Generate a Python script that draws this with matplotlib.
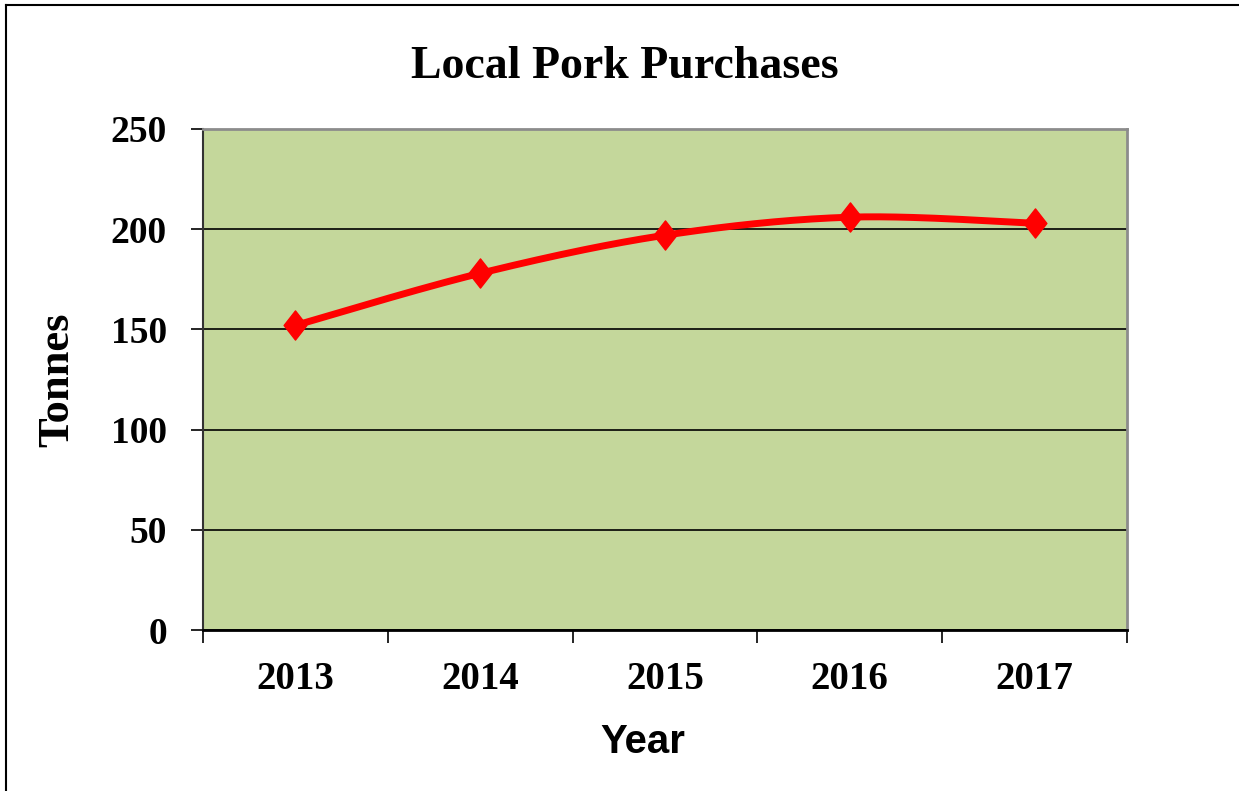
import matplotlib
matplotlib.use("Agg")
import matplotlib.pyplot as plt
import numpy as np
from matplotlib.path import Path
from matplotlib.lines import Line2D

years = ["2013", "2014", "2015", "2016", "2017"]
tonnes = [152, 178, 197, 206, 203]
yticks = [0, 50, 100, 150, 200, 250]

serif = "Liberation Serif"
sans = "Liberation Sans"


def smooth(xs, ys, n=40):
    # Catmull-Rom style curve through the points, like Excel's smoothed line
    xs = np.asarray(xs, float)
    ys = np.asarray(ys, float)
    px = np.concatenate([[xs[0]], xs, [xs[-1]]])
    py = np.concatenate([[ys[0]], ys, [ys[-1]]])
    outx, outy = [], []
    for i in range(1, len(px) - 2):
        p0 = np.array([px[i - 1], py[i - 1]])
        p1 = np.array([px[i], py[i]])
        p2 = np.array([px[i + 1], py[i + 1]])
        p3 = np.array([px[i + 2], py[i + 2]])
        c1 = p1 + (p2 - p0) / 6
        c2 = p2 - (p3 - p1) / 6
        t = np.linspace(0, 1, n)[:, None]
        b = (1 - t) ** 3 * p1 + 3 * (1 - t) ** 2 * t * c1 + 3 * (1 - t) * t ** 2 * c2 + t ** 3 * p2
        outx.extend(b[:, 0])
        outy.extend(b[:, 1])
    return outx, outy


fig = plt.figure(figsize=(12.39, 7.91), dpi=100)
W, H = 1239, 791
ax = fig.add_axes([203 / W, 1 - 630 / H, (1127 - 203) / W, (630 - 129) / H])
ax.set_facecolor("#c4d79b")

x = np.arange(len(years))
sx, sy = smooth(x, tonnes)
ax.plot(sx, sy, color="#ff0000", lw=5, solid_capstyle="round", zorder=3)

diamond = Path([(0, 1), (0.78, 0), (0, -1), (-0.78, 0), (0, 1)],
               [Path.MOVETO, Path.LINETO, Path.LINETO, Path.LINETO, Path.CLOSEPOLY])
ax.plot(x, tonnes, linestyle="none", marker=diamond, markersize=21,
        color="#ff0000", zorder=4)

ax.set_xlim(-0.5, len(years) - 0.5)
ax.set_ylim(0, 250)
ax.set_yticks(yticks)
ax.set_yticklabels([str(v) for v in yticks], fontfamily=serif, fontweight="bold", fontsize=27)
ax.yaxis.grid(True, color="black", lw=1.2)
ax.set_axisbelow(True)

ax.set_xticks(np.arange(len(years) + 1) - 0.5)
ax.set_xticklabels([])
ax.set_xticks(x, minor=True)
ax.set_xticklabels(years, minor=True, fontfamily=serif, fontweight="bold", fontsize=28)
ax.tick_params(axis="x", which="major", direction="out", length=9, width=1.2, color="black")
ax.tick_params(axis="x", which="minor", length=0, pad=22)
ax.tick_params(axis="y", direction="out", length=9, width=1.2, pad=17, color="black")

for s in ["top", "right"]:
    ax.spines[s].set_color("#8c8c8c")
    ax.spines[s].set_linewidth(2)
ax.spines["left"].set_color("#333333")
ax.spines["left"].set_linewidth(1.5)
ax.spines["bottom"].set_color("black")
ax.spines["bottom"].set_linewidth(2)

ax.set_ylabel("Tonnes", fontfamily=serif, fontweight="bold", fontsize=32, labelpad=24)
ax.set_xlabel("Year", fontfamily=sans, fontweight="bold", fontsize=29, labelpad=18)
ax.xaxis.label.set_x((643 - 203) / (1127 - 203))

fig.text(625 / W, 1 - 67 / H, "Local Pork Purchases", ha="center", va="center",
         fontfamily=serif, fontweight="bold", fontsize=33)

# outer chart border
fig.add_artist(Line2D([6 / W, 6 / W], [0, 1 - 5 / H], color="black", lw=1.5))
fig.add_artist(Line2D([6 / W, 1], [1 - 5 / H, 1 - 5 / H], color="black", lw=1.5))

fig.savefig("out.png", dpi=100, facecolor="white")
